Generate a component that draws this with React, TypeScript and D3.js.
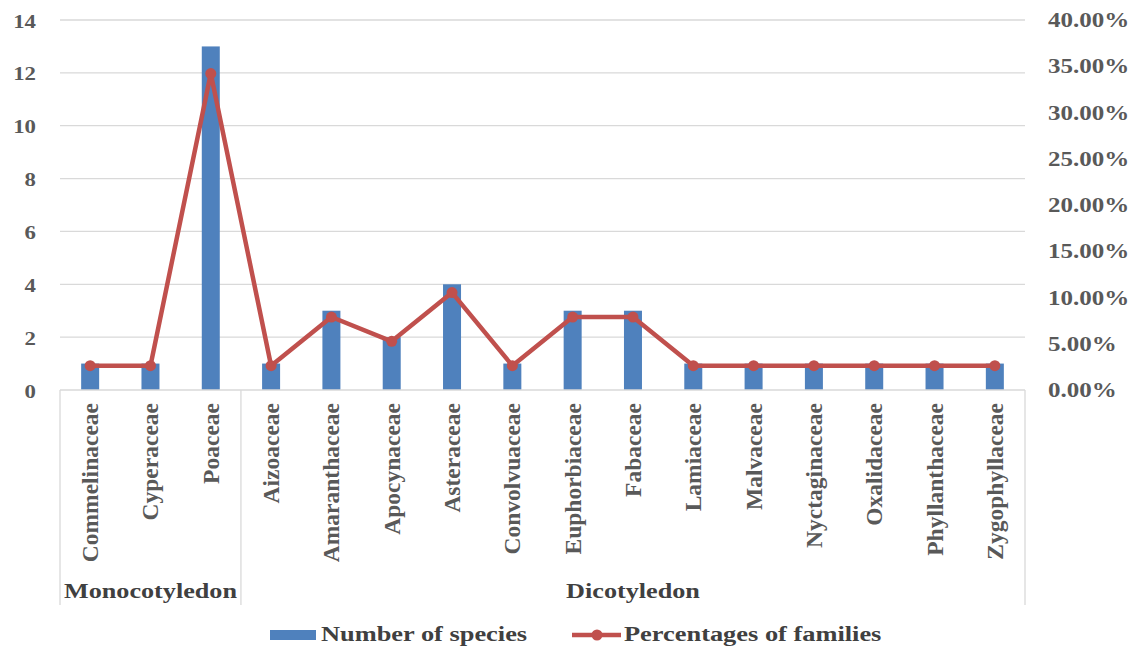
import { useEffect, useRef } from "react";
import * as d3 from "d3";

const families = [
  "Commelinaceae", "Cyperaceae", "Poaceae", "Aizoaceae", "Amaranthaceae",
  "Apocynaceae", "Asteraceae", "Convolvuaceae", "Euphorbiaceae", "Fabaceae",
  "Lamiaceae", "Malvaceae", "Nyctaginaceae", "Oxalidaceae", "Phyllanthaceae",
  "Zygophyllaceae",
];
const species = [1, 1, 13, 1, 3, 2, 4, 1, 3, 3, 1, 1, 1, 1, 1, 1];
const percents = [2.63, 2.63, 34.21, 2.63, 7.89, 5.26, 10.53, 2.63, 7.89, 7.89, 2.63, 2.63, 2.63, 2.63, 2.63, 2.63];
const groups = [
  { name: "Monocotyledon", from: 0, to: 2 },
  { name: "Dicotyledon", from: 3, to: 15 },
];
const leftTicks = [0, 2, 4, 6, 8, 10, 12, 14];
const rightTicks = [0, 5, 10, 15, 20, 25, 30, 35, 40];

const W = 1142;
const H = 647;
const FONT = "'Liberation Serif', 'Times New Roman', serif";

const App = () => {
  const ref = useRef<SVGSVGElement>(null);

  useEffect(() => {
    const left = 60, right = 1025, top = 20, base = 390, bottom = 605;
    const svg = d3.select(ref.current);
    svg.selectAll("*").remove();

    const x = d3.scaleBand().domain(families).range([left, right]).paddingInner(0).paddingOuter(0);
    const y = d3.scaleLinear().domain([0, 14]).range([base, top]);
    const y2 = d3.scaleLinear().domain([0, 40]).range([base, top]);
    const bw = 18;
    const cx = (i: number) => x(families[i])! + x.bandwidth() / 2;

    // the original text looks stretched sideways, so scale it a bit
    const label = (g: any, tx: number, ty: number, size: number, sx: number, anchor = "start") =>
      g.append("text")
        .attr("transform", `translate(${tx},${ty}) scale(${sx},1)`)
        .attr("text-anchor", anchor)
        .attr("font-family", FONT).attr("font-weight", "bold").attr("font-size", size);

    // gridlines
    svg.append("g")
      .selectAll("line")
      .data(leftTicks.slice(1))
      .enter()
      .append("line")
      .attr("x1", left).attr("x2", right)
      .attr("y1", (d) => y(d)).attr("y2", (d) => y(d))
      .attr("stroke", "#d9d9d9").attr("stroke-width", 1.3);

    const ticks = svg.append("g").attr("fill", "#595959");
    leftTicks.forEach((d) => {
      label(ticks, 36, y(d) + 7.5, 19, 1.2, "end").text(d);
    });
    rightTicks.forEach((d) => {
      label(ticks, 1048, y2(d) + 7, 20, 1.25).text(d.toFixed(2) + "%");
    });

    // bars
    svg.append("g")
      .selectAll("rect")
      .data(species)
      .enter()
      .append("rect")
      .attr("x", (d, i) => cx(i) - bw / 2)
      .attr("width", bw)
      .attr("y", (d) => y(d))
      .attr("height", (d) => base - y(d))
      .attr("fill", "#4f81bd");

    // category axis with group boxes
    const ax = svg.append("g").attr("stroke", "#d9d9d9").attr("stroke-width", 1.3);
    ax.append("line").attr("x1", left).attr("x2", right).attr("y1", base).attr("y2", base);
    const seps = [left, ...groups.slice(1).map((g) => x(families[g.from])!), right];
    seps.forEach((sx) => {
      ax.append("line").attr("x1", sx).attr("x2", sx).attr("y1", base).attr("y2", bottom);
    });

    svg.append("g")
      .selectAll("text")
      .data(families)
      .enter()
      .append("text")
      .attr("transform", (d, i) => `translate(${cx(i) + 8},${base + 13}) rotate(-90)`)
      .attr("text-anchor", "end")
      .attr("font-family", FONT).attr("font-weight", "bold").attr("font-size", 23.5)
      .attr("fill", "#595959")
      .text((d) => d);

    const gl = svg.append("g").attr("fill", "#404040");
    groups.forEach((g) => {
      const mid = (x(families[g.from])! + x(families[g.to])! + x.bandwidth()) / 2;
      label(gl, mid, 598, 22, 1.19, "middle").text(g.name);
    });

    // line
    const line = d3.line<number>()
      .x((d, i) => cx(i))
      .y((d) => y2(d));
    svg.append("path")
      .datum(percents)
      .attr("d", line)
      .attr("fill", "none")
      .attr("stroke", "#c0504d")
      .attr("stroke-width", 4.5)
      .attr("stroke-linejoin", "round");
    svg.append("g")
      .selectAll("circle")
      .data(percents)
      .enter()
      .append("circle")
      .attr("cx", (d, i) => cx(i))
      .attr("cy", (d) => y2(d))
      .attr("r", 5.5)
      .attr("fill", "#c0504d");

    // legend
    const lg = svg.append("g").attr("fill", "#404040");
    lg.append("rect").attr("x", 270).attr("y", 630).attr("width", 46).attr("height", 10).attr("fill", "#4f81bd");
    label(lg, 321, 641, 22, 1.2).text("Number of species");
    lg.append("line").attr("x1", 572).attr("x2", 621).attr("y1", 635).attr("y2", 635)
      .attr("stroke", "#c0504d").attr("stroke-width", 4.5);
    lg.append("circle").attr("cx", 597).attr("cy", 635).attr("r", 5.5).attr("fill", "#c0504d");
    label(lg, 624, 641, 22, 1.2).text("Percentages of families");
  }, []);

  return (
    <svg
      ref={ref}
      width={W}
      height={H}
      style={{ position: "absolute", left: 0, top: 0, background: "#fff" }}
    />
  );
};

export default App;
